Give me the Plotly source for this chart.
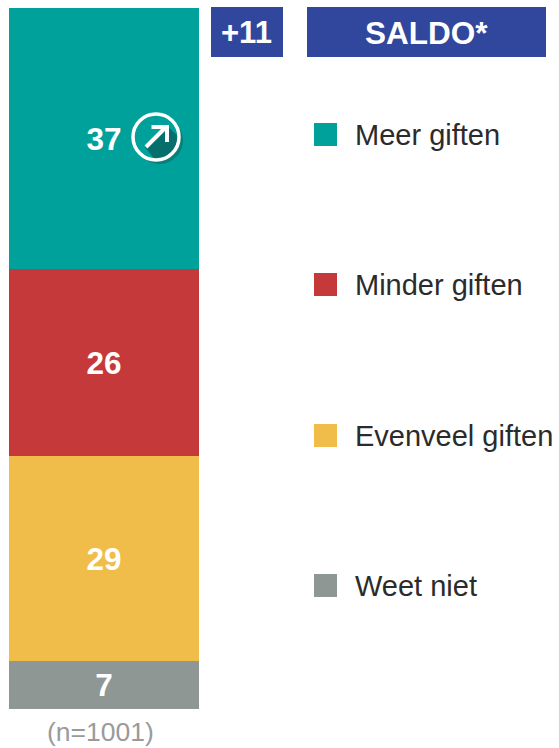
import plotly.graph_objects as go

W, H = 559, 748
categories = ["Meer giften", "Minder giften", "Evenveel giften", "Weet niet"]
values = [37.3, 26.6, 29.2, 6.9]
value_labels = ["37", "26", "29", "7"]
colors = ["#00A19A", "#C5393B", "#F1BD4A", "#8F9795"]
legend_y = [135, 285, 436, 586]
saldo_value = "+11"
saldo_label = "SALDO*"
base_label = "(n=1001)"
FONT = "Liberation Sans, Arial, sans-serif"
BLUE = "#30479D"


def px(x):
    return x / W


def py(y):
    return 1 - y / H


fig = go.Figure()
for cat, val, lab, col in reversed(list(zip(categories, values, value_labels, colors))):
    fig.add_trace(go.Bar(
        x=["Totaal"], y=[val], name=cat, marker=dict(color=col, line=dict(width=0)),
        text=[lab], textposition="inside", insidetextanchor="middle", textangle=0,
        constraintext="none",
        insidetextfont=dict(family=FONT, size=31.5, color="white", weight="bold"),
        hoverinfo="name+y", width=1,
    ))

shapes = []


def rect(x0, y0, x1, y1, color):
    shapes.append(dict(type="rect", xref="paper", yref="paper", x0=px(x0), x1=px(x1),
                       y0=py(y0), y1=py(y1), fillcolor=color, line=dict(width=0), layer="above"))


def path(points, close=True, **kw):
    d = "M" + " L".join(f"{px(a):.5f},{py(b):.5f}" for a, b in points) + (" Z" if close else "")
    shapes.append(dict(type="path", xref="paper", yref="paper", path=d, layer="above", **kw))


def circle(cx, cy, r, **kw):
    shapes.append(dict(type="circle", xref="paper", yref="paper", x0=px(cx - r), x1=px(cx + r),
                       y0=py(cy - r), y1=py(cy + r), layer="above", **kw))


# saldo boxes
rect(211, 7, 283, 57, BLUE)
rect(307, 7, 546, 57, BLUE)

# trend icon
cx, cy, r = 156, 137, 23.5
circle(cx + 3.5, cy + 3.5, r, fillcolor="#077F7A", line=dict(width=0))
circle(cx, cy, r, fillcolor="#00A19A", line=dict(width=0))
path([(145, 147), (167, 126), (179, 137), (176, 150), (166, 157), (155, 160)],
     fillcolor="#066F6C", line=dict(width=0))
circle(cx, cy, r - 0.5, fillcolor="rgba(0,0,0,0)", line=dict(color="white", width=3.5))
path([(146, 147), (166, 127)], close=False, line=dict(color="white", width=4))
path([(151.5, 127), (167, 127), (167, 142)], close=False, line=dict(color="white", width=4),
     fillcolor="rgba(0,0,0,0)")

anns = [
    dict(text=saldo_value, x=px(246.5), y=py(33), size=31, color="white", weight="bold", xanchor="center"),
    dict(text=saldo_label, x=px(426.5), y=py(33), size=31.5, color="white", weight="bold", xanchor="center"),
    dict(text=base_label, x=px(100.5), y=py(732), size=26.5, color="#9A9A9A", weight="normal", xanchor="center"),
]
for cat, col, ly in zip(categories, colors, legend_y):
    rect(314, ly - 12, 337, ly + 11, col)
    anns.append(dict(text=cat, x=px(353), y=py(ly), size=29, color="#2B2B2B", weight="normal", xanchor="left"))

fig.update_layout(
    width=W, height=H, autosize=False, barmode="stack", bargap=0, showlegend=False,
    margin=dict(l=0, r=0, t=0, b=0), paper_bgcolor="white", plot_bgcolor="white",
    xaxis=dict(domain=[px(9), px(199)], visible=False, fixedrange=True),
    yaxis=dict(domain=[py(709), py(8)], range=[0, sum(values)], visible=False, fixedrange=True),
    shapes=shapes,
    annotations=[dict(text=a["text"], x=a["x"], y=a["y"], xref="paper", yref="paper",
                      xanchor=a["xanchor"], yanchor="middle", showarrow=False,
                      font=dict(family=FONT, size=a["size"], color=a["color"], weight=a["weight"]))
                 for a in anns],
)
fig.write_html("out.html", config={"displayModeBar": False},
               post_script="document.documentElement.style.margin='0';document.body.style.margin='0';document.body.style.overflow='hidden';")
